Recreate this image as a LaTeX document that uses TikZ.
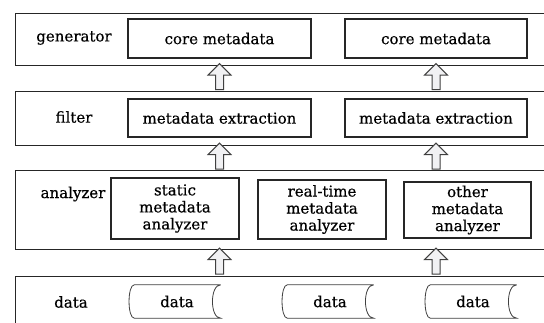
\documentclass[tikz,border=0pt]{standalone}
\usepackage{fontspec}
\setmainfont{DejaVu Serif}
\newfontfamily\diagfont[FakeBold=0.5]{DejaVu Serif}
\usetikzlibrary{shapes.arrows,calc}
\tikzset{
  layer/.style={draw=black!85,line width=1.1pt,minimum width=560pt,anchor=north west,inner sep=0pt},
  unit/.style={draw=black!85,line width=1.1pt,align=center,inner sep=0pt},
  tape/.style={inner sep=0pt,minimum width=87pt,minimum height=33pt},
  uparrow/.style={single arrow,draw=black!75,fill=blue!8!gray!10,line width=1pt,
    shape border rotate=90,inner sep=3.5pt,single arrow head extend=7.5pt,
    single arrow head indent=0pt,minimum height=26pt},
}
\newcommand\tapeline[1]{%
  \draw[black!75,line width=.8pt] (#1.north east) -- ([xshift=1pt]#1.north west)
    .. controls ([xshift=-6pt]#1.north west) and ([xshift=-6pt]#1.south west) .. ([xshift=1pt]#1.south west)
    -- (#1.south east)
    .. controls ([xshift=-11pt]#1.south east) and ([xshift=-11pt]#1.north east) .. (#1.north east);}
\begin{document}
\begin{tikzpicture}[x=1pt,y=-1pt,font=\diagfont\fontsize{15}{17}\selectfont]
  \useasboundingbox (0,0) rectangle (544,323);
  \clip (0,0) rectangle (544,323);
  \fill[white] (0,0) rectangle (544,323);
  \node[layer,minimum height=52pt] (genrow) at (15,13) {};
  \node[layer,minimum height=54pt] (filtrow) at (15,91) {};
  \node[layer,minimum height=79pt] (analrow) at (15,170) {};
  \node[layer,minimum height=80pt] (datarow) at (15,276) {};

  \node (genlbl) at (74,38) {generator};
  \node (filtlbl) at (74,117) {filter};
  \node (anallbl) at (73,194) {analyzer};
  \node (datalbl) at (71,302) {data};

  \node[unit,minimum width=183pt,minimum height=39pt] (gen1) at (219.5,38.5) {core metadata};
  \node[unit,minimum width=182pt,minimum height=39pt] (gen2) at (436,38.5) {core metadata};
  \node[unit,minimum width=183pt,minimum height=38pt] (filt1) at (219.5,118) {metadata extraction};
  \node[unit,minimum width=182pt,minimum height=38pt] (filt2) at (436,118) {metadata extraction};
  \node[unit,minimum width=128pt,minimum height=61pt] (anal1) at (175,208.5) {static\\metadata\\analyzer};
  \node[unit,minimum width=128pt,minimum height=59pt] (anal2) at (322,209.5) {real-time\\metadata\\analyzer};
  \node[unit,minimum width=127pt,minimum height=56pt] (anal3) at (467.5,210) {other\\metadata\\analyzer};

  \node[tape] (data1) at (177,301.5) {data};
  \node[tape] (data2) at (330,301.5) {data};
  \node[tape] (data3) at (473,301.5) {data};
  \tapeline{data1}
  \tapeline{data2}
  \tapeline{data3}

  \node[uparrow] (up1) at ($(genrow.south -| gen1)!.5!(filtrow.north -| gen1)$) {};
  \node[uparrow] (up2) at ($(genrow.south -| gen2)!.5!(filtrow.north -| gen2)$) {};
  \node[uparrow] (up3) at ($(filtrow.south -| gen1)!.5!(analrow.north -| gen1)$) {};
  \node[uparrow] (up4) at ($(filtrow.south -| gen2)!.5!(analrow.north -| gen2)$) {};
  \node[uparrow] (up5) at ($(analrow.south -| gen1)!.5!(datarow.north -| gen1)$) {};
  \node[uparrow] (up6) at ($(analrow.south -| gen2)!.5!(datarow.north -| gen2)$) {};
\end{tikzpicture}
\end{document}
